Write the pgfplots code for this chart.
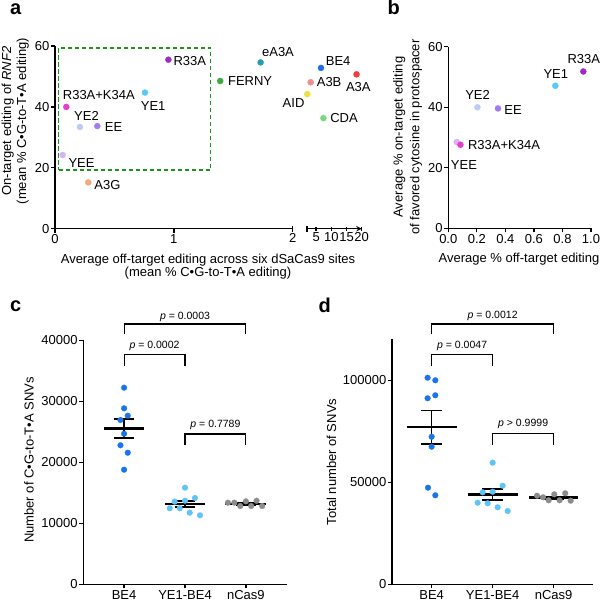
\documentclass[border=0pt]{standalone}
\usepackage{fontspec}
\setmainfont{Liberation Sans}
\usepackage{pgfplots}
\pgfplotsset{compat=1.18}
\definecolor{cR33A}{HTML}{9A2FC6}
\definecolor{cFERNY}{HTML}{3DAA3D}
\definecolor{ceA3A}{HTML}{2B9AB3}
\definecolor{cRK}{HTML}{E83CCB}
\definecolor{cYE1}{HTML}{5CC8F6}
\definecolor{cYE2}{HTML}{BBCDF2}
\definecolor{cEE}{HTML}{A27CF0}
\definecolor{cYEE}{HTML}{D9B2F6}
\definecolor{cA3G}{HTML}{F2A979}
\definecolor{cBE4}{HTML}{1E6EEA}
\definecolor{cA3B}{HTML}{F28C8E}
\definecolor{cA3A}{HTML}{F23D3D}
\definecolor{cAID}{HTML}{E6E042}
\definecolor{cCDA}{HTML}{7BD97B}
\definecolor{dashgreen}{HTML}{1A961A}
\definecolor{dBE4}{HTML}{1A75EC}
\definecolor{dYE1}{HTML}{5EC4F7}
\definecolor{dnC}{HTML}{8C8C8C}
\newcommand{\lf}{\fontsize{13}{15}\selectfont}
\newcommand{\pf}{\fontsize{10.5}{12}\selectfont}
\tikzset{lbl/.style={font=\lf, inner sep=0pt, anchor=base west},
         lble/.style={font=\lf, inner sep=0pt, anchor=base east},
         pl/.style={font=\pf, inner sep=0pt, anchor=base},
         ax/.style={font=\lf, inner sep=0pt, anchor=base},
         pan/.style={font=\fontsize{20}{22}\selectfont\bfseries, inner sep=0pt, anchor=base west}}
\pgfplotsset{
  base/.style={scale only axis, clip=false, axis lines=left,
    axis line style={line width=1.4pt, -},
    tick style={line width=1.3pt, black}, tick align=outside,
    major tick length=4pt, minor tick num=0,
    /pgf/number format/assume math mode=true,
    xticklabel={\hbox{\lf\pgfmathprintnumber{\tick}}},
    yticklabel={\hbox{\lf\pgfmathprintnumber{\tick}}},
    ticklabel style={font=\lf},
    yticklabel style={inner xsep=1.5pt}, xticklabel style={inner ysep=2pt}},
  dot/.style={only marks, mark=*, mark size=3.1pt, color=#1, mark options={solid, fill=#1, draw=#1, line width=0.2pt}},
  dotc/.style={only marks, mark=*, mark size=2.9pt, color=#1, mark options={solid, fill=#1, draw=#1, line width=0.2pt}},
  mline/.style={black, line width=2.6pt, no marks},
  sline/.style={black, line width=1.6pt, no marks},
  brk/.style={black, line width=1.2pt, no marks},
}
\begin{document}
\begin{tikzpicture}
\useasboundingbox (0pt,0pt) rectangle (600pt,602pt);
% ---------------- panel a, left segment
\begin{axis}[base, at={(55pt,373.3pt)}, anchor=south west, width=237.7pt, height=182.7pt,
  xmin=0, xmax=2, ymin=0, ymax=60, xtick={0,1}, ytick={0,20,40,60},
  extra x ticks={2}, extra x tick labels={\hbox{\lf 2}},
  extra x tick style={tick align=center, major tick length=6pt}]
\addplot[dashgreen, line width=1.6pt, dash pattern=on 4.5pt off 2.5pt] coordinates {(0.031,19.2) (1.31,19.2) (1.31,59.4) (0.031,59.4) (0.031,19.2)};
\addplot[dot=cR33A] coordinates {(0.954,55.5)};
\node[lbl, xshift=5pt, yshift=-6pt] at (axis cs:0.954,55.5) {R33A};
\addplot[dot=cFERNY] coordinates {(1.39,48.5)};
\node[lbl, xshift=7.7pt, yshift=-4.6pt] at (axis cs:1.39,48.5) {FERNY};
\addplot[dot=ceA3A] coordinates {(1.73,54.6)};
\node[lbl, xshift=1.3pt, yshift=5.6pt] at (axis cs:1.73,54.6) {eA3A};
\addplot[dot=cRK] coordinates {(0.095,40.0)};
\node[lbl, xshift=-3.6pt, yshift=7.4pt] at (axis cs:0.095,40.0) {R33A+K34A};
\addplot[dot=cYE1] coordinates {(0.757,44.7)};
\node[lbl, xshift=-4.3pt, yshift=-18.4pt] at (axis cs:0.757,44.7) {YE1};
\addplot[dot=cYE2] coordinates {(0.21,33.4)};
\node[lbl, xshift=-6pt, yshift=6.7pt] at (axis cs:0.21,33.4) {YE2};
\addplot[dot=cEE] coordinates {(0.356,33.7)};
\node[lbl, xshift=7.4pt, yshift=-5.7pt] at (axis cs:0.356,33.7) {EE};
\addplot[dot=cYEE] coordinates {(0.065,24.2)};
\node[lbl, xshift=5.6pt, yshift=-12.3pt] at (axis cs:0.065,24.2) {YEE};
\addplot[dot=cA3G] coordinates {(0.28,15.2)};
\node[lbl, xshift=6pt, yshift=-6.7pt] at (axis cs:0.28,15.2) {A3G};
\end{axis}
% ---------------- panel a, right segment
\begin{axis}[base, at={(307pt,373.3pt)}, anchor=south west, width=54.7pt, height=182.7pt,
  axis x line=bottom, axis y line=none,
  xmin=2, xmax=20, ymin=0, ymax=60, xtick={5,10,15,20},
  extra x ticks={2}, extra x tick labels={},
  extra x tick style={tick align=center, major tick length=6pt}]
\addplot[dot=cBE4] coordinates {(6.6,52.8)};
\node[lbl, xshift=4.7pt, yshift=2.7pt] at (axis cs:6.6,52.8) {BE4};
\addplot[dot=cA3B] coordinates {(3.2,48.1)};
\node[lbl, xshift=6pt, yshift=-4.7pt] at (axis cs:3.2,48.1) {A3B};
\addplot[dot=cA3A] coordinates {(18.3,50.7)};
\node[lbl, xshift=-10.7pt, yshift=-17pt] at (axis cs:18.3,50.7) {A3A};
\addplot[dot=cAID] coordinates {(2.1,44.2)};
\node[lble, xshift=-2.7pt, yshift=-13.7pt] at (axis cs:2.1,44.2) {AID};
\addplot[dot=cCDA] coordinates {(7.4,36.3)};
\node[lbl, xshift=6.7pt, yshift=-4.3pt] at (axis cs:7.4,36.3) {CDA};
\end{axis}
% ---------------- panel b
\begin{axis}[base, at={(448.3pt,373.7pt)}, anchor=south west, width=142.7pt, height=181.6pt,
  xmin=0, xmax=1, ymin=0, ymax=60, xtick={0,0.2,0.4,0.6,0.8,1}, ytick={0,20,40,60},
  xticklabel={\hbox{\lf\pgfmathprintnumber[fixed, fixed zerofill, precision=1, assume math mode=true]{\tick}}}]
\addplot[dot=cR33A] coordinates {(0.946,51.8)};
\node[lbl, xshift=-16pt, yshift=8pt] at (axis cs:0.946,51.8) {R33A};
\addplot[dot=cYE1] coordinates {(0.75,47.1)};
\node[lbl, xshift=-12pt, yshift=7.4pt] at (axis cs:0.75,47.1) {YE1};
\addplot[dot=cYE2] coordinates {(0.204,40.0)};
\node[lbl, xshift=-12.3pt, yshift=7.3pt] at (axis cs:0.204,40.0) {YE2};
\addplot[dot=cEE] coordinates {(0.348,39.6)};
\node[lbl, xshift=6.3pt, yshift=-5.7pt] at (axis cs:0.348,39.6) {EE};
\addplot[dot=cYEE] coordinates {(0.059,28.5)};
\node[lbl, xshift=-6pt, yshift=-27pt] at (axis cs:0.059,28.5) {YEE};
\addplot[dot=cRK] coordinates {(0.085,27.6)};
\node[lbl, xshift=7.4pt, yshift=-4.6pt] at (axis cs:0.085,27.6) {R33A+K34A};
\end{axis}
% ---------------- panel c
\begin{axis}[base, at={(83.3pt,17.7pt)}, anchor=south west, width=203.4pt, height=244pt,
  xmin=-0.67, xmax=2.67, ymin=0, ymax=40000, xtick={0,1,2}, xticklabels={BE4,YE1-BE4,nCas9},
  ytick={0,10000,20000,30000,40000}, scaled y ticks=false,
  yticklabel={\hbox{\lf\pgfmathprintnumber[fixed, 1000 sep={}, assume math mode=true]{\tick}}}]
\addplot[dotc=dBE4] coordinates {(0,32230) (0,28850) (-0.06,26930) (0.06,27640) (0,24690) (-0.06,22790) (0.06,21570) (0,18790)};
\addplot[dotc=dYE1] coordinates {(1,15840) (1.164,14150) (0.83,13550) (1,13710) (0.75,12460) (0.913,12460) (1.077,11740) (1.246,11310)};
\addplot[dotc=dnC] coordinates {(1.705,13380) (1.81,13380) (1.907,12840) (2,13600) (2.087,12840) (2.175,13700) (2.267,12840)};
\addplot[mline] coordinates {(-0.33,25510) (0.33,25510)};
\addplot[sline] coordinates {(0,23980) (0,27050)};
\addplot[sline] coordinates {(-0.165,27050) (0.165,27050)};
\addplot[sline] coordinates {(-0.165,23980) (0.165,23980)};
\addplot[mline] coordinates {(0.67,13160) (1.33,13160)};
\addplot[sline] coordinates {(1,12670) (1,13700)};
\addplot[sline] coordinates {(0.835,13700) (1.165,13700)};
\addplot[sline] coordinates {(0.835,12670) (1.165,12670)};
\addplot[mline] coordinates {(1.66,13160) (2.33,13160)};
\addplot[sline] coordinates {(1.835,13330) (2.165,13330)};
\addplot[sline] coordinates {(1.835,13000) (2.165,13000)};
\addplot[brk] coordinates {(0,40980) (0,42670) (2,42670) (2,40980)};
\addplot[brk] coordinates {(0,35790) (0,37700) (1,37700) (1,35790)};
\addplot[brk] coordinates {(1,22840) (1,24640) (2,24640) (2,22840)};
\node[pl] at (axis cs:1,43490) {\textit{p} = 0.0003};
\node[pl] at (axis cs:0.5,38690) {\textit{p} = 0.0002};
\node[pl] at (axis cs:1.5,25670) {\textit{p} = 0.7789};
\end{axis}
% ---------------- panel d
\begin{axis}[base, at={(392pt,17.7pt)}, anchor=south west, width=201.3pt, height=244.8pt,
  xmin=-0.65, xmax=2.65, ymin=0, ymax=120000, xtick={0,1,2}, xticklabels={BE4,YE1-BE4,nCas9},
  ytick={0,50000,100000}, scaled y ticks=false,
  yticklabel={\hbox{\lf\pgfmathprintnumber[fixed, 1000 sep={}, assume math mode=true]{\tick}}}]
\addplot[dotc=dBE4] coordinates {(-0.066,101270) (0.06,100000) (-0.066,91180) (0.06,92650) (0,72350) (0,67450) (-0.06,47350) (0.06,43630)};
\addplot[dotc=dYE1] coordinates {(1,59610) (1.164,48330) (0.836,45100) (1,45390) (0.754,40000) (0.918,39700) (1.082,37750) (1.246,35930)};
\addplot[dotc=dnC] coordinates {(1.728,43430) (1.826,42650) (1.918,41180) (2.01,44120) (2.098,41180) (2.19,44610) (2.279,40980)};
\addplot[mline] coordinates {(-0.41,77110) (0.41,77110)};
\addplot[sline] coordinates {(0,68770) (0,85290)};
\addplot[sline] coordinates {(-0.17,85290) (0.17,85290)};
\addplot[sline] coordinates {(-0.17,68770) (0.17,68770)};
\addplot[mline] coordinates {(0.59,44120) (1.41,44120)};
\addplot[sline] coordinates {(1,41180) (1,46720)};
\addplot[sline] coordinates {(0.83,46720) (1.17,46720)};
\addplot[sline] coordinates {(0.83,41180) (1.17,41180)};
\addplot[mline] coordinates {(1.6,42450) (2.4,42450)};
\addplot[sline] coordinates {(1.83,43100) (2.17,43100)};
\addplot[sline] coordinates {(1.83,41800) (2.17,41800)};
\addplot[brk] coordinates {(0,122700) (0,127600) (2,127600) (2,122700)};
\addplot[brk] coordinates {(0,107160) (0,112750) (1,112750) (1,107160)};
\addplot[brk] coordinates {(1,68280) (1,74020) (2,74020) (2,68280)};
\node[pl] at (axis cs:1,130390) {\textit{p} = 0.0012};
\node[pl] at (axis cs:0.5,115690) {\textit{p} = 0.0047};
\node[pl] at (axis cs:1.5,77110) {\textit{p} > 0.9999};
\end{axis}
% ---------------- axis labels and panel letters
\node[ax] at (208pt,338.7pt) {Average off-target editing across six dSaCas9 sites};
\node[ax] at (208pt,325.2pt) {(mean \% C•G-to-T•A editing)};
\node[ax, rotate=90] at (11pt,481pt) {On-target editing of \textit{RNF2}};
\node[ax, rotate=90] at (26pt,481pt) {(mean \% C•G-to-T•A editing)};
\node[ax] at (519pt,339.3pt) {Average \% off-target editing};
\node[ax, rotate=90] at (402.6pt,465pt) {Average \% on-target editing};
\node[ax, rotate=90] at (419.3pt,465pt) {of favored cytosine in protospacer};
\node[ax, rotate=90] at (33.7pt,142pt) {Number of C•G-to-T•A SNVs};
\node[ax, rotate=90] at (336pt,140pt) {Total number of SNVs};
\node[pan] at (10pt,587pt) {a};
\node[pan] at (387.3pt,587pt) {b};
\node[pan] at (10pt,290.3pt) {c};
\node[pan] at (318.3pt,289.7pt) {d};
\end{tikzpicture}
\end{document}
